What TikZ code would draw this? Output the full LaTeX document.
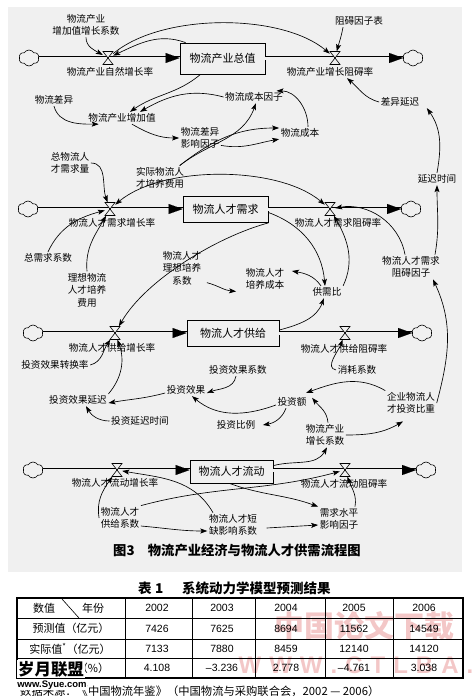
\documentclass[tikz,border=0pt]{standalone}
\usepackage{fontspec}
\setmainfont{Noto Sans CJK SC}
\newfontfamily\numfont{Liberation Sans}
\usetikzlibrary{arrows.meta,shapes.symbols}
\definecolor{bg}{gray}{0.94}
\definecolor{wmred}{RGB}{215,70,70}
\tikzset{
  hg/.pic={\draw[line width=0.6pt,fill=bg] (-5,6.5) -- (5,6.5) -- (-5,-6.5) -- (5,-6.5) -- cycle;},
  lbl/.style={font=\fontsize{9.6}{12.5}\selectfont, align=center, inner sep=1.5pt},
  stock/.style={draw, line width=0.8pt, fill=bg, font=\fontsize{11}{13}\selectfont, inner sep=0pt},
  vbox/.style={minimum width=10pt, minimum height=13pt, inner sep=0pt},
  cld/.style={cloud, cloud puffs=6, cloud puff arc=120, aspect=1.25, draw, line width=0.6pt, fill=bg, minimum width=20pt, minimum height=16pt, inner sep=0pt},
  pipe/.style={double=bg, double distance=3pt, line width=0.7pt},
  ptip/.style={draw=bg, line width=0.1pt, -{Triangle[length=14pt,width=10pt,color=black]}},
  arr/.style={line width=0.65pt, -{Stealth[length=7pt,width=5pt,inset=1.5pt]}},
  arrb/.style={line width=0.65pt, {Stealth[length=7pt,width=5pt,inset=1.5pt]}-{Stealth[length=7pt,width=5pt,inset=1.5pt]}},
  tcell/.style={font=\fontsize{11}{13}\selectfont, inner sep=1pt},
  ncell/.style={font=\numfont\fontsize{10.5}{12}\selectfont, inner sep=1pt},
}
\begin{document}
\begin{tikzpicture}[x=1pt,y=1pt]
\useasboundingbox (0,0) rectangle (472,-697);
\fill[bg] (8,-7) rectangle (462,-572);

% ---------------- Row 1 ----------------
\node[cld] (c1L) at (29,-58) {};
\node[vbox] (v1a) at (108,-58) {};
\node[stock, minimum width=85pt, minimum height=31pt] (box1) at (222.5,-58.5) {物流产业总值};
\node[vbox] (v1b) at (335,-58) {};
\node[cld] (c1R) at (413,-58) {};
\node[lbl] (t1a) at (86,-25) {物流产业\\增加值增长系数};
\node[lbl] (t1b) at (110,-72) {物流产业自然增长率};
\node[lbl] (t1c) at (359,-21) {阻碍因子表};
\node[lbl] (t1d) at (330,-72) {物流产业增长阻碍率};
\node[lbl] (t1e) at (54,-100) {物流差异};
\node[lbl] (t1f) at (122,-118) {物流产业增加值};
\node[lbl] (t1g) at (254,-97) {物流成本因子};
\node[lbl] (t1h) at (200,-138) {物流差异\\影响因子};
\node[lbl] (t1i) at (300,-133) {物流成本};
\node[lbl] (t1j) at (400,-102) {差异延迟};
\node[lbl] (t1k) at (437,-179) {延迟时间};

% ---------------- Row 2 ----------------
\node[cld] (c2L) at (28,-209) {};
\node[vbox] (v2a) at (110,-209) {};
\node[stock, minimum width=85pt, minimum height=26pt] (box2) at (225.5,-209.5) {物流人才需求};
\node[vbox] (v2b) at (330,-209) {};
\node[cld] (c2R) at (411,-209) {};
\node[lbl] (t2a) at (70,-163) {总物流人\\才需求量};
\node[lbl] (t2b) at (160,-178) {实际物流人\\才培养费用};
\node[lbl] (t2c) at (112,-223) {物流人才需求增长率};
\node[lbl] (t2d) at (338,-223) {物流人才需求阻碍率};
\node[lbl] (t2e) at (48,-258) {总需求系数};
\node[lbl] (t2f) at (87,-290) {理想物流\\人才培养\\费用};
\node[lbl] (t2g) at (182,-268) {物流人才\\理想培养\\系数};
\node[lbl] (t2h) at (265,-279) {物流人才\\培养成本};
\node[lbl] (t2i) at (327,-292) {供需比};
\node[lbl] (t2j) at (411,-267) {物流人才需求\\阻碍因子};

% ---------------- Row 3 ----------------
\node[cld] (c3L) at (33,-333) {};
\node[vbox] (v3a) at (115,-333) {};
\node[stock, minimum width=92pt, minimum height=26pt] (box3) at (233,-333) {物流人才供给};
\node[vbox] (v3b) at (345,-333) {};
\node[cld] (c3R) at (422,-333) {};
\node[lbl] (t3a) at (112,-348) {物流人才供给增长率};
\node[lbl] (t3b) at (344,-349) {物流人才供给阻碍率};
\node[lbl] (t3c) at (357,-370) {消耗系数};
\node[lbl] (t3d) at (55,-365) {投资效果转换率};
\node[lbl] (t3e) at (238,-370) {投资效果系数};
\node[lbl] (t3f) at (186,-390) {投资效果};
\node[lbl] (t3g) at (78,-400) {投资效果延迟};
\node[lbl] (t3h) at (140,-421) {投资延迟时间};
\node[lbl] (t3i) at (292,-402) {投资额};
\node[lbl] (t3j) at (236,-425) {投资比例};
\node[lbl] (t3k) at (411,-403) {企业物流人\\才投资比重};
\node[lbl] (t3l) at (325,-435) {物流产业\\增长系数};

% ---------------- Row 4 ----------------
\node[cld] (c4L) at (33,-470) {};
\node[vbox] (v4a) at (117,-470) {};
\node[stock, minimum width=83pt, minimum height=23pt] (box4) at (231.5,-471.5) {物流人才流动};
\node[vbox] (v4b) at (345,-470) {};
\node[cld] (c4R) at (426,-470) {};
\node[lbl] (t4a) at (115,-483) {物流人才流动增长率};
\node[lbl] (t4b) at (344,-484) {物流人才流动阻碍率};
\node[lbl] (t4c) at (120,-518) {物流人才\\供给系数};
\node[lbl] (t4d) at (233,-525) {物流人才短\\缺影响系数};
\node[lbl] (t4e) at (339,-519) {需求水平\\影响因子};

% ---------------- pipes ----------------
\foreach \cl/\va/\bx/\vb/\cr in {c1L/v1a/box1/v1b/c1R, c2L/v2a/box2/v2b/c2R, c3L/v3a/box3/v3b/c3R, c4L/v4a/box4/v4b/c4R}{
  \draw[pipe] (\cl.east |- \va) -- (\va.center) -- (\bx.west |- \va);
  \draw[ptip] (\va.center) -- (\bx.west |- \va);
  \draw[pipe] (\bx.east |- \vb) -- (\vb.center) -- (\cr.west |- \vb);
  \draw[ptip] (\vb.center) -- (\cr.west |- \vb);
  \pic at (\va) {hg};
  \pic at (\vb) {hg};
}

% ---------------- connectors row 1 ----------------
\draw[arr] (t1a.south) to[out=-90,in=150] (v1a);
\draw[arr] ([xshift=6pt]box1.north west) to[out=160,in=25] (v1a);
\draw[arr] (v1a) to[out=40,in=140,looseness=0.75] (v1b);
\draw[arr] ([xshift=-16pt]t1c.south) to[out=-100,in=75] (v1b);
\draw[arr] (t1e.south) to[out=-75,in=180] ([xshift=12pt]t1f.south west);
\draw[arr] ([xshift=-22pt]box1.south) to[out=220,in=35] ([xshift=8pt]t1f.north);
\draw[arr] (t1g.west) to[out=165,in=30] ([xshift=18pt]t1f.north);
\draw[arr] ([xshift=10pt]t1f.south) to[out=-30,in=180] (t1h.west);
\draw[arr] ([xshift=-6pt]t2b.north east) to[out=38,in=-110] ([xshift=2pt]t1g.south);
\draw[arr] ([xshift=-6pt]t2b.north east) to[out=38,in=180] ([yshift=5pt]t1i.west);
\draw[arr] ([yshift=5pt]t1h.south east) to[out=-10,in=190] (t1i.south west);
\draw[arr] ([xshift=8pt]t1i.north) to[out=90,in=0] ([xshift=-8pt]t1g.north east);
\draw[arr] (t1j.west) to[out=165,in=-40] ([xshift=17pt]t1d.south);
\draw[arr] (t1k.north) to[out=80,in=-55] ([xshift=6pt]t1j.south east);
\draw[arr] ([xshift=24pt]t2j.north) to[out=80,in=-90] (t1k.south);

% ---------------- connectors row 2 ----------------
\draw[arr] (t2a.east) to[out=0,in=110] (v2a);
\draw[arrb] (v2a) to[out=40,in=140,looseness=0.75] (v2b);
\draw[arr] (t2e.north) to[out=65,in=195] (v2a);
\draw[arr] (t2f.north) to[out=95,in=240] (v2a);
\draw[arr] ([xshift=4pt,yshift=4pt]t2g.south east) to[out=-15,in=175] ([xshift=-8pt]t2h.south west);
\draw[arr] ([xshift=-6pt]t2i.north) to[out=125,in=-10] ([xshift=6pt,yshift=8pt]t2h.east);
\draw[arr] ([yshift=-3pt]box2.east) to[out=-20,in=95] ([xshift=-2pt]t2i.north);
\draw[arr] (t2i.north east) to[out=65,in=-60] (v2b);
\draw[arr] ([xshift=-6pt]t2j.north) to[out=100,in=10] (v2b);
\draw[arr] ([yshift=3pt]box3.east) to[out=15,in=-110] ([xshift=-3pt]t2i.south);
\draw[arr] (box2.south east) to[out=195,in=60,looseness=0.75] (v3a);
\draw[arr] (t3k.east) to[out=75,in=-65] ([xshift=22pt]t2j.south);

% ---------------- connectors row 3 ----------------
\draw[arr] (t3c.west) to[out=170,in=250] (v3b);
\draw[arr] (t3d.east) to[out=15,in=235] (v3a);
\draw[arr] (t3g.north east) to[out=50,in=-70] (v3a);
\draw[arr] ([yshift=-3pt]t3f.west) to[out=195,in=10] ([yshift=-3pt]t3g.east);
\draw[arr] ([xshift=-2pt]t3e.south) to[out=-100,in=20] ([yshift=-3pt]t3f.east);
\draw[arr] (t3h.west) to[out=180,in=-60] ([xshift=8pt]t3g.south);
\draw[arr] ([yshift=-3pt]t3i.west) to[out=200,in=-40] ([xshift=6pt]t3f.south);
\draw[arr] ([xshift=-6pt]t3i.south) to[out=-110,in=10] ([xshift=6pt]t3j.east);
\draw[arr] (t3k.north west) to[out=150,in=20] ([xshift=-2pt,yshift=3pt]t3i.north east);
\draw[arr] ([xshift=3pt]t3l.north) to[out=95,in=-50] ([xshift=4pt,yshift=-2pt]t3i.north east);
\draw[arr] (t3l.east) to[out=0,in=-150] ([xshift=-8pt,yshift=-6pt]t3k.south);

% ---------------- connectors row 4 ----------------
\draw[arr] (t4c.west) to[out=100,in=235] (v4a);
\draw[arr] ([yshift=-8pt]t4c.east) to[out=-5,in=180] ([yshift=-6pt]t4d.west);
\draw[arr] ([xshift=-20pt]t4d.north) to[out=120,in=-10] (v4a);
\draw[arr] (t4c.north east) to[out=15,in=195] (v4b);
\draw[arr] ([xshift=-2pt]box4.south) to[out=-20,in=160] (t4e.north west);
\draw[arr] ([yshift=-6pt]box4.north east) to[out=15,in=-120] ([xshift=2pt]t3l.south);
\draw[arr] ([xshift=16pt]t4e.north) to[out=80,in=-70] (v4b);
\draw[arr] ([xshift=8pt,yshift=-3pt]t4d.east) -- ([yshift=-6pt]t4e.west);

% ---------------- caption ----------------
\node[anchor=west, font=\fontsize{13.3}{15}\selectfont\bfseries, inner sep=0pt] (cap) at (113,-550) {图3\hspace{1em}物流产业经济与物流人才供需流程图};

% ---------------- table ----------------
\node[anchor=west, font=\fontsize{13.5}{15}\selectfont\bfseries, inner sep=0pt] (ttl) at (138,-588) {表\hspace{0.25em}1\hspace{1.4em}系统动力学模型预测结果};

\node[font=\fontsize{30}{30}\selectfont\bfseries, text=wmred, opacity=0.3, inner sep=0pt] (wm1) at (364,-626) {中国论文下载};
\node[font=\numfont\fontsize{24}{24}\selectfont\bfseries, text=wmred, opacity=0.3, inner sep=0pt] (wm2) at (356,-665) {W\,\,W\,\,W\,\,.\,\,C\,\,T\,\,L\,\,B\,\,A\,\,.};

\draw[line width=0.6pt] (17,-618) -- (463,-618) (17,-639) -- (463,-639) (17,-658) -- (463,-658);
\foreach \xx in {125,192,255,325,393} \draw[line width=0.6pt] (\xx,-598) -- (\xx,-678);
\draw[line width=1.2pt] (17,-598) rectangle (463,-678);
\draw[line width=0.6pt] (62,-599) -- (79,-618);

\node[tcell] (h0a) at (44,-608) {数值};
\node[tcell] (h0b) at (93,-608) {年份};
\node[ncell] (h1) at (157,-608) {2002};
\node[ncell] (h2) at (222,-608) {2003};
\node[ncell] (h3) at (286,-608) {2004};
\node[ncell] (h4) at (354,-608) {2005};
\node[ncell] (h5) at (424,-608) {2006};

\node[tcell] (r1) at (71,-628.5) {预测值（亿元）};
\node[ncell] (r1a) at (157,-628.5) {7426};
\node[ncell] (r1b) at (222,-628.5) {7625};
\node[ncell] (r1c) at (286,-628.5) {8694};
\node[ncell] (r1d) at (354,-628.5) {11562};
\node[ncell] (r1e) at (424,-628.5) {14549};

\node[tcell] (r2) at (70,-648.5) {实际值\textsuperscript{*}（亿元）};
\node[ncell] (r2a) at (157,-648.5) {7133};
\node[ncell] (r2b) at (222,-648.5) {7880};
\node[ncell] (r2c) at (286,-648.5) {8459};
\node[ncell] (r2d) at (354,-648.5) {12140};
\node[ncell] (r2e) at (424,-648.5) {14120};

\node[tcell] (r3) at (71,-668) {相对误差（\%）};
\node[ncell] (r3a) at (157,-668) {4.108};
\node[ncell] (r3b) at (222,-668) {–3.236};
\node[ncell] (r3c) at (286,-668) {2.778};
\node[ncell] (r3d) at (354,-668) {–4.761};
\node[ncell] (r3e) at (424,-668) {3.038};

\node[anchor=west, font=\fontsize{11.3}{12}\selectfont, inner sep=0pt] (src) at (20,-691) {数据来源：《中国物流年鉴》（中国物流与采购联合会，2002 — 2006）};

\node[fill=white, inner sep=0.6pt, font=\fontsize{16.5}{17}\selectfont\bfseries] (wm3) at (51,-669) {岁月联盟};
\node[fill=white, inner sep=0.6pt, font=\numfont\fontsize{9.5}{10}\selectfont\bfseries] (wm4) at (52,-685) {www.Syue.com};
\end{tikzpicture}
\end{document}
